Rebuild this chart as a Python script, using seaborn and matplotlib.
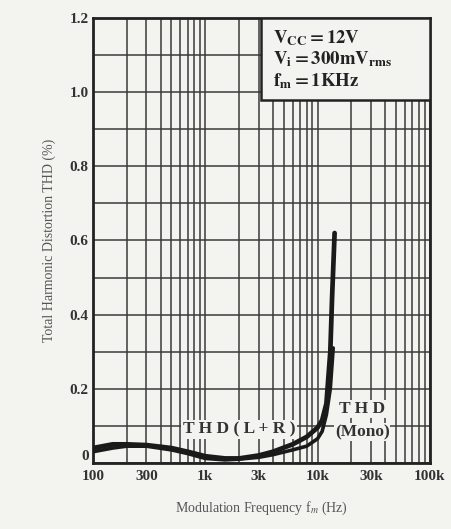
import numpy as np
import pandas as pd
import matplotlib
matplotlib.use("Agg")
import matplotlib.pyplot as plt
import matplotlib.transforms as mtrans
import seaborn as sns
from matplotlib.ticker import LogLocator, NullFormatter, MultipleLocator
from matplotlib.patches import Rectangle

# ---------- data ----------
freq_lr = [100, 150, 200, 300, 500, 700, 1000, 1500, 2000, 3000, 4000, 6000,
           8000, 10000, 11000, 12000, 13000, 13500, 14200]
thd_lr = [0.040, 0.050, 0.050, 0.048, 0.040, 0.030, 0.018, 0.012, 0.012, 0.020,
          0.030, 0.050, 0.070, 0.095, 0.115, 0.160, 0.300, 0.450, 0.620]

freq_mono = [100, 150, 200, 300, 500, 700, 1000, 1500, 2000, 3000, 4000, 6000,
             8000, 10000, 11000, 12000, 13000, 13800]
thd_mono = [0.030, 0.040, 0.045, 0.045, 0.035, 0.025, 0.012, 0.008, 0.010, 0.015,
            0.022, 0.035, 0.045, 0.065, 0.085, 0.130, 0.200, 0.310]

xtick_vals = [100, 300, 1000, 3000, 10000, 30000, 100000]
xtick_labels = ['100', '300', '1k', '3k', '10k', '30k', '100k']
ytick_vals = [0, 0.2, 0.4, 0.6, 0.8, 1.0, 1.2]
ytick_labels = ['0', '0.2', '0.4', '0.6', '0.8', '1.0', '1.2']

cond_lines = [r'$\mathbf{V_{CC}=12V}$',
              r'$\mathbf{V_{i}=300mV_{rms}}$',
              r'$\mathbf{f_{m}=1KHz}$']

# ---------- style ----------
sns.set_style("white")
plt.rcParams['font.family'] = ['Liberation Serif', 'DejaVu Serif']
plt.rcParams['mathtext.fontset'] = 'stix'

bg = '#f3f3f0'
fig = plt.figure(figsize=(4.51, 5.29), dpi=100, facecolor=bg)
ax = fig.add_axes([0.206, 0.125, 0.747, 0.841])
ax.set_facecolor(bg)

df_lr = pd.DataFrame({'f': freq_lr, 'thd': thd_lr})
df_mono = pd.DataFrame({'f': freq_mono, 'thd': thd_mono})
sns.lineplot(data=df_lr, x='f', y='thd', ax=ax, color='#1a1a1a', lw=3.4, zorder=5)
sns.lineplot(data=df_mono, x='f', y='thd', ax=ax, color='#1a1a1a', lw=2.6, zorder=5)

ax.set_xscale('log')
ax.set_xlim(100, 100000)
ax.set_ylim(0, 1.2)
ax.set_xticks(xtick_vals)
ax.set_xticklabels(xtick_labels)
ax.xaxis.set_minor_locator(LogLocator(base=10, subs=range(2, 10)))
ax.xaxis.set_minor_formatter(NullFormatter())
ax.set_yticks(ytick_vals)
ax.set_yticklabels(ytick_labels)
ax.yaxis.set_minor_locator(MultipleLocator(0.1))

ax.grid(True, which='both', color='#3a3a3a', lw=1.1)
ax.tick_params(which='both', length=0, labelsize=11, colors='#333333')
ax.tick_params(axis='x', pad=5)
ax.tick_params(axis='y', pad=3)
for lab in ax.get_xticklabels() + ax.get_yticklabels():
    lab.set_fontweight('bold')
# lift the "0" label a little so it clears "100"
zero_lab = ax.get_yticklabels()[0]
zero_lab.set_transform(zero_lab.get_transform() +
                       mtrans.ScaledTranslation(0, 6 / 72, fig.dpi_scale_trans))
for sp in ax.spines.values():
    sp.set_color('#222222')
    sp.set_linewidth(2)

ax.set_xlabel(r'Modulation Frequency f$_m$ (Hz)', fontsize=10, color='#555555', labelpad=12)
ax.set_ylabel('Total Harmonic Distortion THD (%)', fontsize=10, color='#555555', labelpad=10)

# curve labels
ax.text(2000, 0.09, 'T H D ( L + R )', fontsize=12.5, fontweight='bold', color='#333333',
        ha='center', va='center', zorder=4, bbox=dict(facecolor=bg, edgecolor='none', pad=1))
ax.text(25000, 0.145, 'T H D', fontsize=12.5, fontweight='bold', color='#333333',
        ha='center', va='center', zorder=4, bbox=dict(facecolor=bg, edgecolor='none', pad=0.5))
ax.text(25000, 0.083, '(Mono)', fontsize=12.5, fontweight='bold', color='#333333',
        ha='center', va='center', zorder=4, bbox=dict(facecolor=bg, edgecolor='none', pad=0.5))

# conditions box
ax.add_patch(Rectangle((0.50, 0.816), 0.50, 0.184, transform=ax.transAxes,
                       facecolor=bg, edgecolor='#222222', lw=1.8, zorder=6))
for i, s in enumerate(cond_lines):
    ax.text(0.535, 0.955 - i * 0.048, s, transform=ax.transAxes, fontsize=13.5,
            color='#222222', ha='left', va='center', zorder=7)

fig.savefig('out.png', dpi=100, facecolor=bg)
